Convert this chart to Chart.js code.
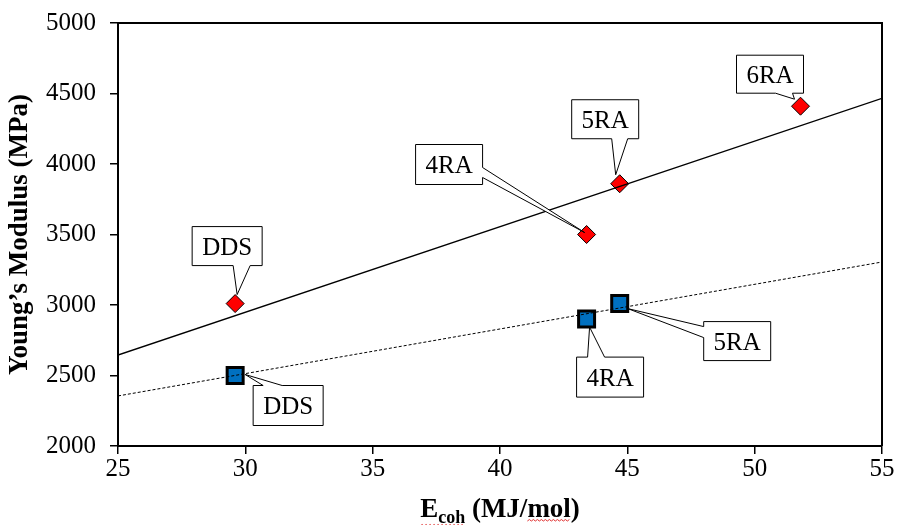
<!DOCTYPE html>
<html>
<head>
<meta charset="utf-8">
<script src="https://cdn.jsdelivr.net/npm/chart.js@4.4.1/dist/chart.umd.min.js"></script>
<style>
    html, body { margin: 0; padding: 0; background: #fff; }
    #cadre { width: 901px; height: 525px; }
</style>
</head>
<body>
<div id="cadre"><canvas id="moduleGraph"></canvas></div>
<script>
// Module d'Young en fonction de l'énergie cohésive
const nomsRouge = ['DDS', '4RA', '5RA', '6RA'];
const ecohRouge = [29.6, 43.4, 44.7, 51.8];
const moduleRouge = [3010, 3500, 3860, 4410];

const nomsBleu = ['DDS', '4RA', '5RA'];
const ecohBleu = [29.6, 43.4, 44.7];
const moduleBleu = [2500, 2900, 3010];

// droites de tendance, valeurs aux bornes de l'axe x
const tendanceX = [25, 55];
const tendanceRouge = [2645, 4465];
const tendanceBleu = [2355, 3305];

const ticksX = [25, 30, 35, 40, 45, 50, 55];
const ticksY = [2000, 2500, 3000, 3500, 4000, 4500, 5000];

const titreY = 'Young\u2019s Modulus (MPa)';

// bulles : boite [dx, dy, largeur, hauteur] par rapport au point, côté de la pointe,
// base de la pointe le long de ce côté, bout de la pointe par rapport au point
const bullesRouge = [
    { boite: [-43, -77, 70, 39], cote: 'bas', base: [41, 58], pointe: [2, -9] },
    { boite: [-171, -90, 67, 40], cote: 'droite', base: [23, 33], pointe: [-2, -2] },
    { boite: [-48, -84, 67, 39], cote: 'bas', base: [40, 56], pointe: [-4, -9] },
    { boite: [-64, -51, 67, 38], cote: 'bas', base: [39, 56], pointe: [-6, -7] }
];
const bullesBleu = [
    { boite: [18, 10, 70, 40], cote: 'haut', base: [10, 29], pointe: [10, -1] },
    { boite: [-10, 38, 67, 40], cote: 'haut', base: [11, 28], pointe: [3, 8] },
    { boite: [84, 18, 67, 39], cote: 'gauche', base: [5, 16], pointe: [8, 5] }
];

const police = 'Liberation Serif, Times New Roman, serif';

function versPoints(xs, ys) {
    return xs.map((x, i) => ({ x: x, y: ys[i] }));
}

function dessinerBulle(ctx, px, py, b, texte) {
    const x = px + b.boite[0], y = py + b.boite[1];
    const w = b.boite[2], h = b.boite[3];
    const tx = px + b.pointe[0], ty = py + b.pointe[1];
    const [b1, b2] = b.base;

    ctx.beginPath();
    ctx.moveTo(x, y);
    if (b.cote === 'haut') {
        ctx.lineTo(x + b1, y); ctx.lineTo(tx, ty); ctx.lineTo(x + b2, y);
    }
    ctx.lineTo(x + w, y);
    if (b.cote === 'droite') {
        ctx.lineTo(x + w, y + b1); ctx.lineTo(tx, ty); ctx.lineTo(x + w, y + b2);
    }
    ctx.lineTo(x + w, y + h);
    if (b.cote === 'bas') {
        ctx.lineTo(x + b2, y + h); ctx.lineTo(tx, ty); ctx.lineTo(x + b1, y + h);
    }
    ctx.lineTo(x, y + h);
    if (b.cote === 'gauche') {
        ctx.lineTo(x, y + b2); ctx.lineTo(tx, ty); ctx.lineTo(x, y + b1);
    }
    ctx.closePath();
    ctx.fillStyle = '#fff';
    ctx.fill();
    ctx.strokeStyle = '#000';
    ctx.lineWidth = 1;
    ctx.stroke();

    ctx.fillStyle = '#000';
    ctx.font = '25px ' + police;
    ctx.textAlign = 'center';
    ctx.textBaseline = 'middle';
    ctx.fillText(texte, x + w / 2, y + h / 2 + 2);
}

function soulignementRouge(ctx, x0, x1, y) {
    ctx.beginPath();
    ctx.strokeStyle = '#e03030';
    ctx.lineWidth = 1;
    let haut = true;
    ctx.moveTo(x0, y);
    for (let x = x0 + 2; x <= x1; x += 2) {
        ctx.lineTo(x, haut ? y - 1.5 : y);
        haut = !haut;
    }
    ctx.stroke();
}

// cadre du graphique, titres des axes et bulles
const habillage = {
    id: 'habillage',
    afterDatasetsDraw(chart) {
        const ctx = chart.ctx;
        const a = chart.chartArea;
        const sx = chart.scales.x, sy = chart.scales.y;
        ctx.save();

        ctx.strokeStyle = '#000';
        ctx.lineWidth = 2;
        ctx.beginPath();
        ctx.moveTo(a.left, a.top);
        ctx.lineTo(a.right, a.top);
        ctx.lineTo(a.right, a.bottom);
        ctx.stroke();

        bullesRouge.forEach((b, i) => {
            dessinerBulle(ctx, sx.getPixelForValue(ecohRouge[i]), sy.getPixelForValue(moduleRouge[i]), b, nomsRouge[i]);
        });
        bullesBleu.forEach((b, i) => {
            dessinerBulle(ctx, sx.getPixelForValue(ecohBleu[i]), sy.getPixelForValue(moduleBleu[i]), b, nomsBleu[i]);
        });

        // titre de l'axe x avec indice
        const grand = 'bold 27px ' + police;
        const petit = 'bold 18px ' + police;
        ctx.fillStyle = '#000';
        ctx.textAlign = 'left';
        ctx.textBaseline = 'alphabetic';
        ctx.font = grand;
        const wE = ctx.measureText('E').width;
        const wReste = ctx.measureText(' (MJ/mol)').width;
        const wMol = ctx.measureText('mol').width;
        const wFin = ctx.measureText(')').width;
        ctx.font = petit;
        const wCoh = ctx.measureText('coh').width;
        const total = wE + wCoh + wReste;
        let x = (a.left + a.right) / 2 - total / 2;
        const base = 517;
        ctx.font = grand;
        ctx.fillText('E', x, base);
        ctx.font = petit;
        ctx.fillText('coh', x + wE, base + 6);
        ctx.font = grand;
        ctx.fillText(' (MJ/mol)', x + wE + wCoh, base);
        soulignementRouge(ctx, x, x + wE + wCoh, base + 9);
        const finMol = x + total - wFin;
        soulignementRouge(ctx, finMol - wMol, finMol, base + 4);

        // titre de l'axe y
        ctx.translate(20, (a.top + a.bottom) / 2);
        ctx.rotate(-Math.PI / 2);
        ctx.textAlign = 'center';
        ctx.textBaseline = 'middle';
        ctx.font = grand;
        ctx.fillText(titreY, 0, 0);

        ctx.restore();
    }
};

const ctx = document.getElementById('moduleGraph').getContext('2d');

new Chart(ctx, {
    type: 'scatter',
    data: {
        datasets: [
            {
                label: 'tendance rouge',
                data: versPoints(tendanceX, tendanceRouge),
                showLine: true,
                borderColor: '#000',
                borderWidth: 1.3,
                pointRadius: 0,
                order: 0
            },
            {
                label: 'tendance bleue',
                data: versPoints(tendanceX, tendanceBleu),
                showLine: true,
                borderColor: '#000',
                borderWidth: 1,
                borderDash: [3, 2],
                pointRadius: 0,
                order: 0
            },
            {
                label: 'rouge',
                data: versPoints(ecohRouge, moduleRouge),
                pointStyle: 'rectRot',
                pointRadius: 9,
                backgroundColor: '#ff0000',
                borderColor: '#000',
                borderWidth: 1,
                order: 1
            },
            {
                label: 'bleu',
                data: versPoints(ecohBleu, moduleBleu),
                pointStyle: 'rect',
                pointRadius: 11.3,
                backgroundColor: '#0070c0',
                borderColor: '#000',
                borderWidth: 3,
                order: 1
            }
        ]
    },
    options: {
        responsive: true,
        maintainAspectRatio: false,
        animation: false,
        layout: {
            padding: { top: 23, right: 19, left: 0, bottom: 0 }
        },
        scales: {
            x: {
                type: 'linear',
                min: 25,
                max: 55,
                afterBuildTicks: s => { s.ticks = ticksX.map(v => ({ value: v })); },
                afterFit: s => { s.height = 79; },
                ticks: {
                    color: '#000',
                    font: { family: police, size: 25 },
                    padding: 0,
                    maxRotation: 0
                },
                grid: {
                    drawOnChartArea: false,
                    tickLength: 8,
                    color: '#000',
                    lineWidth: 1.5
                },
                border: { color: '#000', width: 2 }
            },
            y: {
                type: 'linear',
                min: 2000,
                max: 5000,
                afterBuildTicks: s => { s.ticks = ticksY.map(v => ({ value: v })); },
                afterFit: s => { s.width = 118; },
                ticks: {
                    color: '#000',
                    // hauteur de ligne réduite pour ne pas pousser le haut du graphique
                    font: { family: police, size: 25, lineHeight: 0.5 },
                    padding: 14,
                    callback: v => String(v)
                },
                grid: {
                    drawOnChartArea: false,
                    tickLength: 8,
                    color: '#000',
                    lineWidth: 1.5
                },
                border: { color: '#000', width: 2 }
            }
        },
        plugins: {
            legend: { display: false },
            tooltip: { enabled: false }
        }
    },
    plugins: [habillage]
});
</script>
</body>
</html>
